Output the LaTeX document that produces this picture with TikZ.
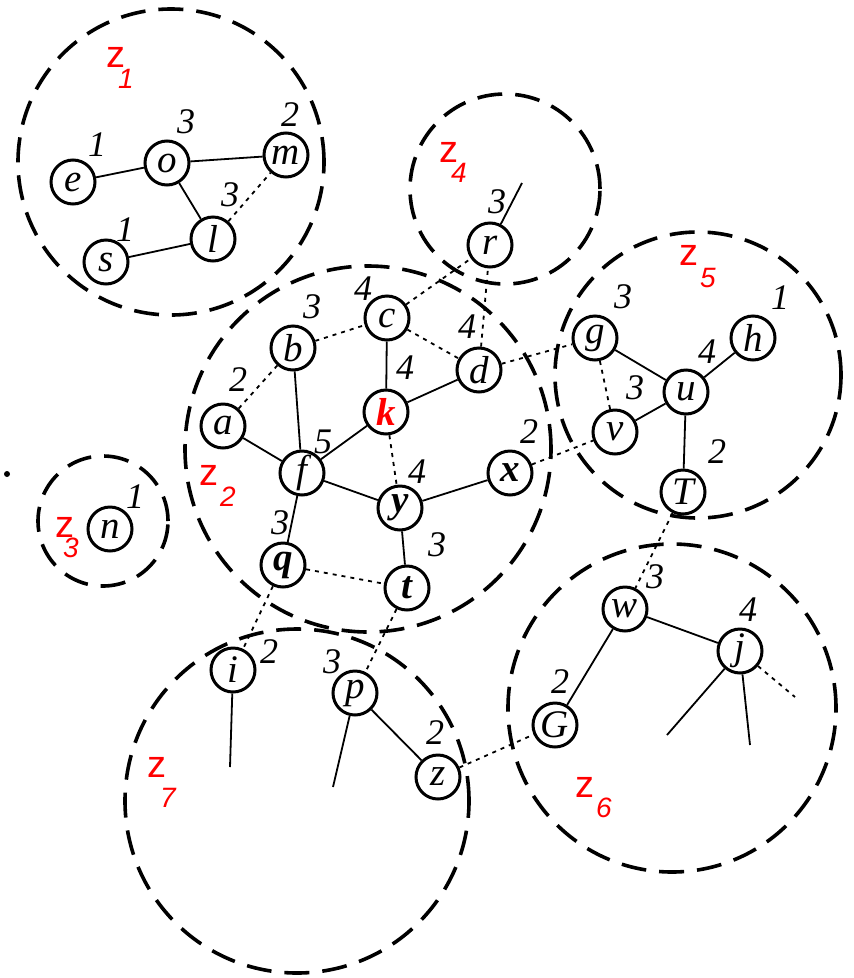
\documentclass[tikz,border=0pt]{standalone}
\usepackage{fontspec}
\setmainfont{Liberation Serif}
\newfontfamily\zfont{Liberation Sans}
\newcommand\zlab[3]{z\kern#2pt\raisebox{-#3pt}{\fontsize{28}{28}\selectfont\itshape #1}}
\begin{document}
\begin{tikzpicture}[x=1pt,y=-1pt,
 vx/.style={circle,draw,line width=3pt,minimum size=44pt,inner sep=0pt,font=\fontsize{39}{39}\selectfont\itshape},
 vb/.style={vx,font=\fontsize{39}{39}\selectfont\itshape\bfseries},
 deg/.style={font=\fontsize{36}{36}\selectfont\itshape,inner sep=0pt},
 zl/.style={font=\fontsize{38}{38}\zfont,text=red,inner sep=0pt,anchor=base west},
 cl/.style={draw,line width=3.6pt,dash pattern=on 25pt off 13pt},
 ed/.style={line width=1.8pt},
 dt/.style={line width=1.8pt,dash pattern=on 4pt off 5pt}]
\useasboundingbox (0,0) rectangle (854,978);
% clusters
\draw[cl] (171,162) circle (153pt);
\draw[cl] (368,449) circle (183pt);
\draw[cl] (103,521) circle (65pt);
\draw[cl] (505,189) circle (95pt);
\draw[cl] (698,375) circle (143pt);
\draw[cl] (672,708) circle (164pt);
\draw[cl] (297,801) circle (172pt);
% cluster labels
\node[zl] (z1) at (106,67) {\zlab{1}{-7}{21}};
\node[zl] (z2) at (199,485) {\zlab{2}{2}{21}};
\node[zl] (z3) at (55,537) {\zlab{3}{-11}{20}};
\node[zl] (z4) at (439,162) {\zlab{4}{-7}{20}};
\node[zl] (z5) at (679,265) {\zlab{5}{2}{22}};
\node[zl] (z6) at (575,797) {\zlab{6}{2}{20}};
\node[zl] (z7) at (147,777) {\zlab{7}{-6}{30}};
\fill (7,474) circle (3pt);
% z1
\node[vx] (e) at (73,182) {e};
\node[vx] (o) at (167,163) {o};
\node[vx] (m) at (286,155) {m};
\node[vx] (l) at (213,239) {l};
\node[vx] (s) at (106,262) {s};
\node[deg] (de) at (97,145) {1};
\node[deg] (do) at (186,122) {3};
\node[deg] (dm) at (290,115) {2};
\node[deg] (dl) at (230,195) {3};
\node[deg] (ds) at (125,230) {1};
\draw[ed] (e) -- (o); \draw[ed] (o) -- (m); \draw[ed] (o) -- (l); \draw[ed] (l) -- (s);
\draw[dt] (l) -- (m);
% z3
\node[vx] (n) at (110,529) {n};
\node[deg] (dn) at (135,497) {1};
% z2
\node[vx] (c) at (387,318) {c};
\node[vx] (b) at (293,348) {b};
\node[vx] (d) at (479,370) {d};
\node[vb,text=red] (k) at (386,412) {k};
\node[vx] (a) at (223,426) {a};
\node[vx] (f) at (302,473) {f};
\node[vb] (x) at (510,473) {x};
\node[vb] (y) at (400,508) {y};
\node[vb] (q) at (283,565) {q};
\node[vb] (t) at (407,588) {t};
\node[deg] (dc) at (363,289) {4};
\node[deg] (db) at (312,307) {3};
\node[deg] (da) at (238,380) {2};
\node[deg] (dd) at (467,327) {4};
\node[deg] (dk) at (405,368) {4};
\node[deg] (df) at (323,442) {5};
\node[deg] (dx) at (529,432) {2};
\node[deg] (dy) at (417,472) {4};
\node[deg] (dq) at (280,523) {3};
\node[deg] (dtt) at (437,545) {3};
\draw[ed] (c) -- (k); \draw[ed] (k) -- (d); \draw[ed] (a) -- (f); \draw[ed] (b) -- (f);
\draw[ed] (f) -- (k); \draw[ed] (f) -- (y); \draw[ed] (y) -- (x); \draw[ed] (f) -- (q);
\draw[ed] (y) -- (t);
\draw[dt] (b) -- (c); \draw[dt] (c) -- (d); \draw[dt] (a) -- (b); \draw[dt] (k) -- (y);
\draw[dt] (q) -- (t);
% z4
\node[vx] (r) at (490,245) {r};
\node[deg] (dr) at (497,202) {3};
\coordinate (r1) at (522,183);
\draw[ed] (r) -- (r1);
\draw[dt] (c) -- (r); \draw[dt] (d) -- (r);
% z5
\node[vx] (g) at (595,338) {g};
\node[vx] (h) at (753,338) {h};
\node[vx] (u) at (686,392) {u};
\node[vx] (v) at (615,432) {v};
\node[vx] (T) at (683,492) {T};
\node[deg] (dg) at (623,297) {3};
\node[deg] (dh) at (780,298) {1};
\node[deg] (du) at (707,352) {4};
\node[deg] (dv) at (635,388) {3};
\node[deg] (dT) at (717,452) {2};
\draw[ed] (g) -- (u); \draw[ed] (u) -- (h); \draw[ed] (u) -- (v); \draw[ed] (u) -- (T);
\draw[dt] (g) -- (v); \draw[dt] (d) -- (g); \draw[dt] (x) -- (v);
% z6
\node[vx] (w) at (625,609) {w};
\node[vx] (j) at (740,651) {j};
\node[vx] (G) at (555,725) {G};
\node[deg] (dw) at (655,577) {3};
\node[deg] (dj) at (748,610) {4};
\node[deg] (dG) at (560,682) {2};
\coordinate (j1) at (667,735);
\coordinate (j2) at (750,745);
\coordinate (j3) at (795,697);
\draw[ed] (w) -- (j); \draw[ed] (w) -- (G);
\draw[ed] (j) -- (j1); \draw[ed] (j) -- (j2); \draw[dt] (j) -- (j3);
\draw[dt] (T) -- (w);
% z7
\node[vx] (i) at (233,670) {i};
\node[vx] (p) at (355,693) {p};
\node[vx] (zz) at (438,777) {z};
\node[deg] (di) at (269,652) {2};
\node[deg] (dp) at (332,662) {3};
\node[deg] (dz) at (435,733) {2};
\coordinate (i1) at (230,767);
\coordinate (p1) at (333,787);
\draw[ed] (i) -- (i1); \draw[ed] (p) -- (p1); \draw[ed] (p) -- (zz);
\draw[dt] (zz) -- (G); \draw[dt] (q) -- (i); \draw[dt] (t) -- (p);
\end{tikzpicture}
\end{document}
